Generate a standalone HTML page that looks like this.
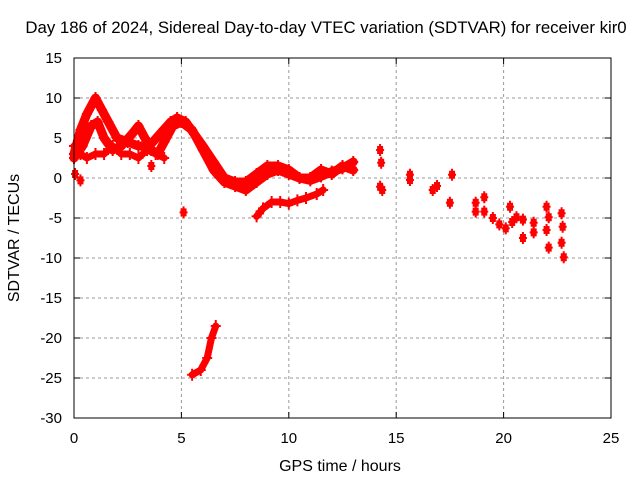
<!DOCTYPE html>
<html><head><meta charset="utf-8"><style>
body{margin:0;background:#fff}
svg{display:block;font-family:"Liberation Sans",sans-serif;font-size:15px}
</style></head><body>
<svg id="c" width="640" height="480">
<rect width="640" height="480" fill="#fff"/>
<text x="326" y="33" text-anchor="middle" font-size="16.8">Day 186 of 2024, Sidereal Day-to-day VTEC variation (SDTVAR) for receiver kir0</text>
<text x="340" y="471" text-anchor="middle" font-size="16">GPS time / hours</text>
<text transform="translate(19,238) rotate(-90)" text-anchor="middle" font-size="16">SDTVAR / TECUs</text>
<g id="grid"></g>
<g id="ticks"></g>
<g id="marks"></g>
<rect x="74" y="58" width="537" height="360" fill="none" stroke="#000" stroke-width="1"/>
</svg>
<script>
const xTicks=[0,5,10,15,20,25];
const yTicks=[15,10,5,0,-5,-10,-15,-20,-25,-30];
const traceA=[[0,3],[0.3,6],[0.6,8],[1.0,10],[1.3,8.5],[1.6,7],[2.0,5],[2.5,4.5],[3,4],[3.5,4],[4,5.5],[4.5,7],[4.8,7.5],[5.2,7],[5.6,5.5],[6,4],[6.5,2],[7,0],[7.5,-0.5],[8,-0.5],[8.5,0.5],[9,1.5],[9.5,1.5],[10,1],[10.5,0],[11,-0.3],[11.5,0.2],[12,0.8],[12.5,1.2],[13,2]];
const traceB=[[0,2.5],[0.4,4],[0.8,6.5],[1.1,7],[1.4,5],[1.8,3.5],[2.2,4],[2.7,5.5],[3,6.5],[3.3,5],[3.6,3.5],[3.9,3],[4.2,4.5],[4.6,6.5],[5,7],[5.5,6],[6,3.5],[6.5,1],[7,-0.5],[7.5,-1],[8,-1.5],[8.5,-0.5],[9,0.5],[9.5,1],[10,0.5],[10.5,0],[11,0],[11.5,1],[12,0.5],[12.5,1.5],[13,1]];
const traceC=[[0,4],[0.3,3],[0.6,2.5],[1,3],[1.4,3],[1.8,4],[2.2,3],[2.6,3],[3,2.5],[3.4,3.5],[3.8,3],[4.2,2.5]];
const traceD=[[8.5,-4.8],[8.8,-3.8],[9.2,-3],[9.6,-3],[10,-3.2],[10.4,-2.8],[10.8,-2.5],[11.3,-2],[11.6,-1.5]];
const traceE=[[5.5,-24.6],[5.9,-24],[6.2,-22.5],[6.4,-20],[6.6,-18.5]];
const clusters=[[5.1,-4.3],[0.05,0.5],[0.3,-0.3],[3.6,1.5],[14.25,3.5],[14.3,1.9],[14.25,-1.1],[14.35,-1.5],[15.64,-0.25],[15.64,0.4],[16.7,-1.5],[16.9,-1],[17.6,0.4],[17.5,-3.1],[18.7,-3.1],[18.7,-4.2],[19.1,-2.4],[19.1,-4.2],[19.5,-5],[19.8,-5.8],[20.1,-6.3],[20.4,-5.5],[20.6,-4.9],[20.3,-3.6],[20.9,-5.2],[20.9,-7.5],[21.4,-5.6],[21.4,-6.8],[22.0,-3.6],[22.1,-4.9],[22.0,-6.5],[22.1,-8.7],[22.7,-4.4],[22.75,-6.1],[22.7,-8.1],[22.8,-9.9]];
const X=v=>74+v*537/25, Y=v=>178-v*8;
const NS="http://www.w3.org/2000/svg";
const grid=document.getElementById('grid'),ticks=document.getElementById('ticks'),marks=document.getElementById('marks');
function mk(tag,attrs,parent){const e=document.createElementNS(NS,tag);for(const k in attrs)e.setAttribute(k,attrs[k]);parent.appendChild(e);return e;}
xTicks.forEach(t=>{const x=X(t);
 if(t>0&&t<25){const g=mk('line',{x1:x,x2:x,y1:58,y2:418,stroke:'#999','stroke-dasharray':'3,3'},grid);}
 mk('line',{x1:x,x2:x,y1:418,y2:412,stroke:'#000'},ticks);mk('line',{x1:x,x2:x,y1:58,y2:64,stroke:'#000'},ticks);
 const l=mk('text',{x:x,y:443,'text-anchor':'middle'},ticks);l.textContent=t;
 
 });
yTicks.forEach(t=>{const y=Y(t);
 if(t<15&&t>-30){const g=mk('line',{x1:74,x2:611,y1:y,y2:y,stroke:'#999','stroke-dasharray':'3,3'},grid);}
 mk('line',{x1:74,x2:80,y1:y,y2:y,stroke:'#000'},ticks);mk('line',{x1:611,x2:605,y1:y,y2:y,stroke:'#000'},ticks);
 const l=mk('text',{x:62,y:y+5,'text-anchor':'end'},ticks);l.textContent=t;
 
 });
[traceA,traceB,traceC,traceD,traceE].forEach((tr,i)=>{
 const p=mk('polyline',{points:tr.map(d=>X(d[0])+','+Y(d[1])).join(' '),fill:'none',stroke:'#f00','stroke-width':i<2?9:7,'stroke-linejoin':'round','stroke-linecap':'round'},marks);
 
 
 tr.forEach(d=>{const c=mk('path',{d:`M${X(d[0])-5},${Y(d[1])}h10M${X(d[0])},${Y(d[1])-6}v12`,stroke:'#f00','stroke-width':2},marks);});
});
clusters.forEach(d=>{
 const c=mk('path',{d:`M${X(d[0])-4},${Y(d[1])}h8M${X(d[0])},${Y(d[1])-6}v12M${X(d[0])-2},${Y(d[1])-3}h4v6h-4z`,stroke:'#f00','stroke-width':2,fill:'#f00'},marks);
 
 
});
</script>
</body></html>
